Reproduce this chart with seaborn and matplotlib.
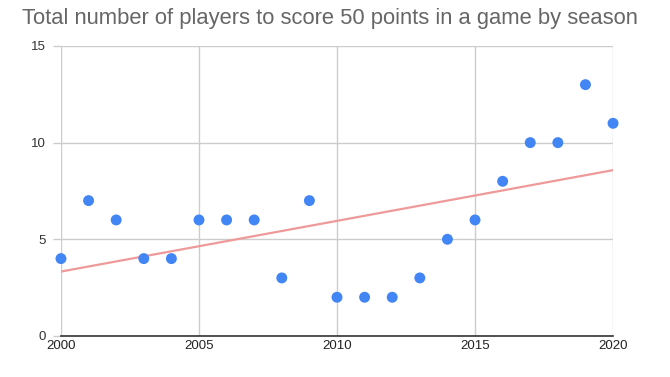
import matplotlib
matplotlib.use('Agg')
import matplotlib.pyplot as plt
import seaborn as sns
import pandas as pd

# 시즌별 50점 득점 선수 수
seasons = [2000, 2001, 2002, 2003, 2004, 2005, 2006, 2007, 2008, 2009, 2010,
           2011, 2012, 2013, 2014, 2015, 2016, 2017, 2018, 2019, 2020]
players = [4, 7, 6, 4, 4, 6, 6, 6, 3, 7, 2, 2, 2, 3, 5, 6, 8, 10, 10, 13, 11]
x_ticks = [2000, 2005, 2010, 2015, 2020]
y_ticks = [0, 5, 10, 15]

df = pd.DataFrame({'season': seasons, 'players': players})

sns.set_style('white')
plt.rcParams['font.family'] = ['Liberation Sans', 'DejaVu Sans']

fig = plt.figure(figsize=(6.7, 3.77), dpi=100)
ax = fig.add_axes([0.091, 0.109, 0.824, 0.769])

# 추세선
sns.regplot(x='season', y='players', data=df, ci=None, scatter=False, ax=ax,
            line_kws={'color': '#ef9a9a', 'lw': 1.6, 'zorder': 2})
# 점
sns.scatterplot(x='season', y='players', data=df, ax=ax, s=62, color='#4285f4',
                edgecolor='none', zorder=3)
for c in ax.collections:
    c.set_clip_on(False)

ax.set_xlim(2000, 2020)
ax.set_ylim(0, 15)
ax.set_xticks(x_ticks)
ax.set_yticks(y_ticks)
ax.grid(True, color='#cccccc', lw=1)
ax.set_axisbelow(True)
for s in ['top', 'right', 'left']:
    ax.spines[s].set_visible(False)
ax.spines['bottom'].set_color('#333333')
ax.spines['bottom'].set_linewidth(1.2)
ax.tick_params(axis='x', bottom=False, length=0, labelsize=9.5, colors='#222222', pad=3)
ax.tick_params(axis='y', left=True, direction='out', length=6, width=1, color='#cccccc',
               labelsize=9.5, labelcolor='#333333', pad=5)
ax.set_xlabel('')
ax.set_ylabel('')

fig.text(0.493, 0.952, 'Total number of players to score 50 points in a game by season',
         ha='center', va='center', fontsize=15.8, color='#666666')

fig.savefig('out.png', dpi=100)
